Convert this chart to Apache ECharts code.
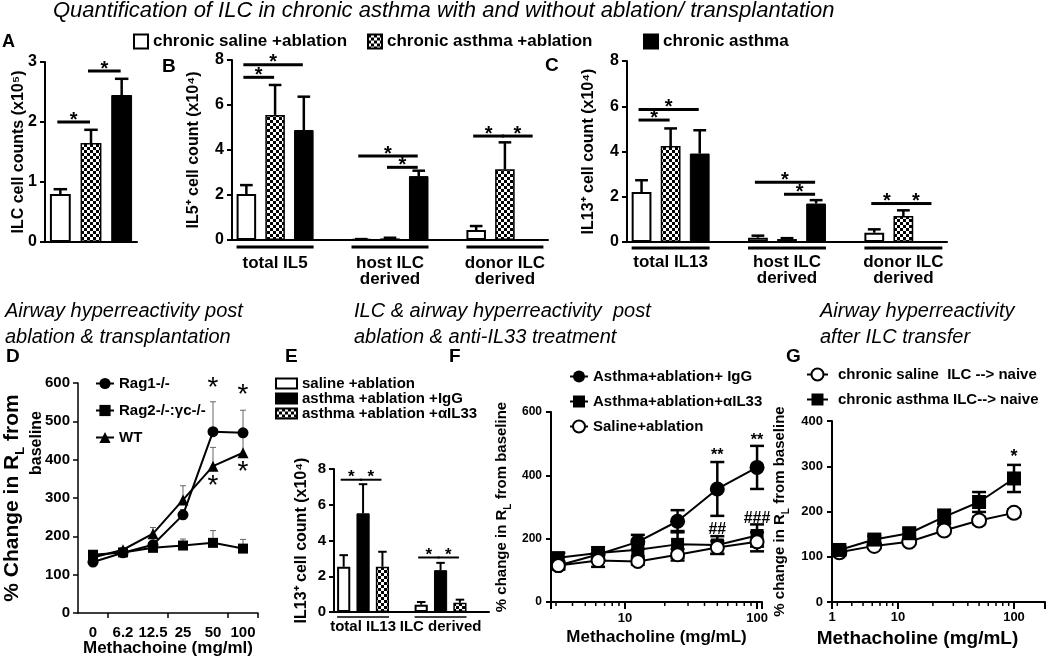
<!DOCTYPE html>
<html>
<head>
<meta charset="utf-8">
<script src="https://cdn.jsdelivr.net/npm/echarts@6.0.0/dist/echarts.min.js"></script>
<style>
html,body{margin:0;padding:0;background:#fff;}
#chart{width:1050px;height:660px;}
</style>
</head>
<body>
<div id="chart"></div>
<script>
// ================= DATA =================
const topLegend = ['chronic saline +ablation', 'chronic asthma +ablation', 'chronic asthma'];

// Panel A: ILC cell counts (x10^5)
const aValues = [0.80, 1.65, 2.45];
const aErrTop = [0.88, 1.87, 2.72];
const aSig = [[0, 0, 1, 2.0], [0, 1, 2, 2.85]];          // [group, fromBar, toBar, y]

// Panel B: IL5+ cell count (x10^4)
const bGroups = ['total IL5', 'host ILC\nderived', 'donor ILC\nderived'];
const bSaline = [2.04, 0.03, 0.44];
const bSalineErr = [2.44, 0.04, 0.62];
const bAsthmaAbl = [5.56, 0.07, 3.14];
const bAsthmaAblErr = [6.89, 0.10, 4.34];
const bAsthma = [4.89, 2.84, 0];
const bAsthmaErr = [6.37, 3.08, 0];
const bSig = [[0, 0, 2, 7.79], [0, 0, 1, 7.23], [1, 0, 2, 3.73], [1, 1, 2, 3.23], [2, 0, 1, 4.62], [2, 1, 2, 4.62]];

// Panel C: IL13+ cell count (x10^4)
const cGroups = ['total IL13', 'host ILC\nderived', 'donor ILC\nderived'];
const cSaline = [2.21, 0.19, 0.41];
const cSalineErr = [2.73, 0.28, 0.56];
const cAsthmaAbl = [4.24, 0.13, 1.15];
const cAsthmaAblErr = [5.02, 0.17, 1.40];
const cAsthma = [3.91, 1.70, 0];
const cAsthmaErr = [4.94, 1.85, 0];
const cSig = [[0, 0, 2, 5.86], [0, 0, 1, 5.39], [1, 0, 2, 2.64], [1, 1, 2, 2.11], [2, 0, 1, 1.70], [2, 1, 2, 1.70]];

// Panel D: airway hyperreactivity post ablation & transplantation
const dDoses = ['0', '6.2', '12.5', '25', '50', '100'];
const dNames = ['Rag1-/-', 'Rag2-/-:\u03b3c-/-', 'WT'];
const dRag1 = [133, 157, 178, 256, 473, 470];
const dRag1Err = [140, 162, 185, 270, 551, 529];
const dRag2 = [152, 158, 170, 176, 183, 168];
const dRag2Err = [158, 163, 180, 193, 215, 192];
const dWT = [145, 165, 207, 295, 383, 418];
const dWTErr = [150, 170, 223, 332, 432, 465];
const dStars = [[4, 585], [4, 330], [5, 568], [5, 368]];

// Panel E: IL13+ cell count (x10^4) with anti-IL33
const eNames = ['saline +ablation', 'asthma +ablation +IgG', 'asthma +ablation +\u03b1IL33'];
const eGroups = ['total IL13', 'ILC derived'];
const eSaline = [2.53, 0.41];
const eSalineErr = [3.18, 0.56];
const eIgG = [5.52, 2.34];
const eIgGErr = [7.15, 2.75];
const eIL33 = [2.53, 0.52];
const eIL33Err = [3.37, 0.69];
const eSig = [[0, 0, 1, 7.4], [0, 1, 2, 7.4], [1, 0, 1, 3.05], [1, 1, 2, 3.05]];

// Panel F: airway hyperreactivity post ablation & anti-IL33
const fDoses = [3.125, 6.25, 12.5, 25, 50, 100];
const fNames = ['Asthma+ablation+ IgG', 'Asthma+ablation+\u03b1IL33', 'Saline+ablation'];
const fIgG = [115, 150, 190, 255, 357, 425];
const fIgGErr = [12, 15, 22, 35, 85, 68];
const fIL33 = [140, 155, 165, 182, 180, 210];
const fIL33Err = [15, 18, 20, 42, 28, 35];
const fSaline = [115, 131, 128, 149, 172, 190];
const fSalineErr = [12, 20, 10, 18, 20, 30];
const fMarks = [[50, 463, '**'], [100, 510, '**'], [50, 228, '##'], [100, 262, '###']];
const fMinorTicks = [3, 4, 5, 6, 7, 8, 9, 20, 30, 40, 50, 60, 70, 80, 90];

// Panel G: airway hyperreactivity after ILC transfer
const gDoses = [3.125, 6.25, 12.5, 25, 50, 100];
const gNames = ['chronic saline  ILC --> naive', 'chronic asthma ILC--> naive'];
const gSaline = [110, 124, 133, 158, 180, 197];
const gSalineErr = [5, 6, 5, 6, 8, 8];
const gAsthma = [115, 138, 152, 188, 221, 273];
const gAsthmaErr = [8, 8, 10, 16, 22, 30];
const gMarks = [[100, 320, '*']];
const gMinorTicks = [3, 4, 5, 6, 7, 8, 9, 20, 30, 40, 50, 60, 70, 80, 90];
const gAxisStartLabel = '1';

// ================= STYLE HELPERS =================
const FONT = "'Liberation Sans', Arial, Helvetica, sans-serif";
const BLACK = '#000';

function makeChecker() {
  const c = document.createElement('canvas');
  c.width = 6; c.height = 6;
  const g = c.getContext('2d');
  g.fillStyle = '#fff'; g.fillRect(0, 0, 6, 6);
  g.fillStyle = '#000'; g.fillRect(0, 0, 3, 3); g.fillRect(3, 3, 3, 3);
  return c;
}
const checkerFill = { image: makeChecker(), repeat: 'repeat' };
const styleWhite = { color: '#fff', borderColor: BLACK, borderWidth: 2 };
const styleChecker = { color: checkerFill, borderColor: BLACK, borderWidth: 1.5 };
const styleBlack = { color: BLACK, borderColor: BLACK, borderWidth: 1 };

const txt = (size, extra) => Object.assign({ color: BLACK, fontFamily: FONT, fontWeight: 'bold', fontSize: size }, extra || {});

const slot4 = (g, k) => g * 4 + k;
const slot1 = (g, k) => k;

// ================= AXES =================
const grids = [
  { left: 45, top: 62, width: 92, height: 180 },    // A
  { left: 232, top: 60, width: 316, height: 180 },  // B
  { left: 627, top: 61, width: 320, height: 181 },  // C
  { left: 78, top: 383, width: 180, height: 230 },  // D
  { left: 334, top: 469, width: 155, height: 143 }, // E
  { left: 551, top: 412, width: 211, height: 190 }, // F
  { left: 832, top: 421, width: 213, height: 181 }  // G
].map(g => Object.assign({ containLabel: false, outerBoundsMode: 'none' }, g));

function slotLabels(groups, n, slotFn) {
  const arr = new Array(n).fill('');
  groups.forEach((g, i) => { arr[slotFn(i, 1)] = g; });
  return arr;
}

function barX(grid, n, labels, size, margin) {
  return {
    gridIndex: grid, type: 'category',
    data: Array.from({ length: n }, (_, i) => 'g' + grid + 's' + i),
    axisLine: { show: true, onZero: false, lineStyle: { color: BLACK, width: 2 } },
    axisTick: { show: false },
    axisLabel: txt(size, { interval: 0, margin: margin, lineHeight: size - 1, formatter: (v, i) => labels[i] || '' }),
    splitLine: { show: false }
  };
}
function valY(grid, max, interval, size, name, nameGap, nameSize, extra) {
  return Object.assign({
    gridIndex: grid, type: 'value', min: 0, max: max, interval: interval,
    axisLine: { show: true, lineStyle: { color: BLACK, width: 2 } },
    axisTick: { show: true, inside: false, length: 5, lineStyle: { color: BLACK, width: 2 } },
    axisLabel: txt(size, { margin: 8 }),
    splitLine: { show: false },
    name: name, nameLocation: 'middle', nameGap: nameGap, nameRotate: 90, nameMoveOverlap: false,
    nameTextStyle: txt(nameSize, {
      rich: {
        sub: { fontFamily: FONT, fontWeight: 'bold', fontSize: Math.round(nameSize * 0.65), color: BLACK, verticalAlign: 'bottom', lineHeight: nameSize + 8 }
      }
    })
  }, extra || {});
}

const xAxes = [
  barX(0, 3, [], 16, 10),
  barX(1, 11, slotLabels(bGroups, 11, slot4), 17, 15),
  barX(2, 11, slotLabels(cGroups, 11, slot4), 17, 12),
  {
    gridIndex: 3, type: 'category', data: dDoses,
    axisLine: { show: true, onZero: false, lineStyle: { color: BLACK, width: 1.5 } },
    axisTick: { show: true, length: 5, interval: (i) => i % 2 === 1, lineStyle: { color: BLACK, width: 1.5 } },
    axisLabel: txt(15, { interval: 0, margin: 12 }),
    splitLine: { show: false },
    name: 'Methachoine (mg/ml)', nameLocation: 'middle', nameGap: 27, nameMoveOverlap: false,
    nameTextStyle: txt(17)
  },
  barX(4, 8, slotLabels(eGroups, 8, slot4), 15, 8),
  {
    gridIndex: 5, type: 'log', logBase: 10, min: 2.75, max: 109,
    axisLine: { show: true, onZero: false, lineStyle: { color: BLACK, width: 2 } },
    axisTick: { show: true, length: 7, lineStyle: { color: BLACK, width: 2 } },
    axisLabel: txt(13, { margin: 10, showMinLabel: true, showMaxLabel: true,
      formatter: (v) => (Math.abs(v - 10) < 1e-6 || Math.abs(v - 100) < 1e-6) ? String(Math.round(v)) : '' }),
    splitLine: { show: false }, minorTick: { show: false },
    name: 'Methacholine (mg/mL)', nameLocation: 'middle', nameGap: 27, nameMoveOverlap: false,
    nameTextStyle: txt(17)
  },
  {
    gridIndex: 6, type: 'log', logBase: 10, min: 2.70, max: 185,
    axisLine: { show: true, onZero: false, lineStyle: { color: BLACK, width: 2 } },
    axisTick: { show: true, length: 7, lineStyle: { color: BLACK, width: 2 } },
    axisLabel: txt(13, { margin: 9, showMinLabel: true, showMaxLabel: true,
      formatter: (v) => {
        if (Math.abs(v - 10) < 1e-6 || Math.abs(v - 100) < 1e-6) return String(Math.round(v));
        if (Math.abs(v - 2.70) < 1e-3) return gAxisStartLabel;
        return '';
      } }),
    splitLine: { show: false }, minorTick: { show: false },
    name: 'Methacholine (mg/mL)', nameLocation: 'middle', nameGap: 27, nameMoveOverlap: false,
    nameTextStyle: txt(19, { padding: [0, 42, 0, 0] })
  }
];

// D y-axis name: long first line, "baseline" on a second line shifted toward the top
const dYName = valY(3, 600, 100, 15, '{big|% Change in R}{sub|L}{big| from}\n{pad| }{mid|baseline}', 31, 22,
  { axisLine: { show: true, lineStyle: { color: BLACK, width: 1.5 } },
    axisTick: { show: true, length: 5, lineStyle: { color: BLACK, width: 1.5 } } });
dYName.nameTextStyle = txt(22, {
  rich: {
    big: { fontFamily: FONT, fontWeight: 'bold', fontSize: 21, color: BLACK, lineHeight: 24 },
    sub: { fontFamily: FONT, fontWeight: 'bold', fontSize: 13, color: BLACK, lineHeight: 30, verticalAlign: 'bottom' },
    pad: { fontFamily: FONT, fontSize: 15, width: 110, lineHeight: 20 },
    mid: { fontFamily: FONT, fontWeight: 'bold', fontSize: 16, color: BLACK, lineHeight: 20 }
  }
});

const yAxes = [
  valY(0, 3, 1, 16, 'ILC cell counts (x10\u2075)', 18, 16),
  valY(1, 8, 2, 16, 'IL5\u207a cell count (x10\u2074)', 30, 16),
  valY(2, 8, 2, 16, 'IL13\u207a cell count (x10\u2074)', 30, 16),
  dYName,
  valY(4, 8, 2, 15, 'IL13\u207a cell count (x10\u2074)', 24, 16),
  valY(5, 600, 200, 12, '% change in R{sub|L} from baseline', 38, 15, { axisLabel: txt(12, { margin: 9 }) }),
  valY(6, 400, 100, 13, '% change in R{sub|L} from baseline', 41, 15, { axisLabel: txt(13, { margin: 9 }) })
];

// ================= SERIES BUILDERS =================
function barSeries(ax, n, condVals, names, styles, slotFn) {
  return condVals.map((vals, k) => {
    const d = new Array(n).fill('-');
    vals.forEach((v, g) => { d[slotFn(g, k)] = v; });
    return { type: 'bar', name: names[k], xAxisIndex: ax, yAxisIndex: ax, data: d,
      barWidth: '68%', barGap: '-100%', itemStyle: styles[k], z: 2, silent: true };
  });
}
function barErrSeries(ax, condVals, condErr, slotFn, lw) {
  const d = [];
  condVals.forEach((vals, k) => vals.forEach((v, g) => {
    const e = condErr[k][g];
    if (e > v) d.push([slotFn(g, k), v, e]);
  }));
  return {
    type: 'custom', xAxisIndex: ax, yAxisIndex: ax, data: d, z: 3, silent: true,
    encode: { x: 0, y: 1 },
    renderItem(p, api) {
      const c0 = api.coord([api.value(0), api.value(1)]);
      const c1 = api.coord([api.value(0), api.value(2)]);
      const hw = api.size([1, 0])[0] * 0.22;
      return { type: 'group', children: [
        { type: 'line', shape: { x1: c0[0], y1: c0[1], x2: c1[0], y2: c1[1] }, style: { stroke: BLACK, lineWidth: lw } },
        { type: 'line', shape: { x1: c1[0] - hw, y1: c1[1], x2: c1[0] + hw, y2: c1[1] }, style: { stroke: BLACK, lineWidth: lw } }
      ] };
    }
  };
}
function sigSeries(ax, sig, slotFn, lw, starSize) {
  return {
    type: 'custom', xAxisIndex: ax, yAxisIndex: ax, z: 4, silent: true,
    encode: { x: 0, y: 1 },
    data: sig.map(s => [slotFn(s[0], s[1]), s[3], slotFn(s[0], s[2])]),
    renderItem(p, api) {
      const a = api.coord([api.value(0), api.value(1)]);
      const b = api.coord([api.value(2), api.value(1)]);
      const x1 = a[0] - 3, x2 = b[0] - 1;
      return { type: 'group', children: [
        { type: 'line', shape: { x1: x1, y1: a[1], x2: x2, y2: a[1] }, style: { stroke: BLACK, lineWidth: lw } },
        { type: 'text', x: (x1 + x2) / 2, y: a[1] - 2,
          style: { text: '*', fontSize: starSize, fontWeight: 'bold', fontFamily: FONT, fill: BLACK, align: 'center', verticalAlign: 'middle' } }
      ] };
    }
  };
}
function underlineSeries(ax, nGroups, slotFn, lw, offset) {
  const d = [];
  for (let g = 0; g < nGroups; g++) d.push([slotFn(g, 0), 0, slotFn(g, 2)]);
  return {
    type: 'custom', xAxisIndex: ax, yAxisIndex: ax, z: 4, silent: true, clip: false,
    encode: { x: 0, y: 1 }, data: d,
    renderItem(p, api) {
      const a = api.coord([api.value(0), 0]);
      const b = api.coord([api.value(2), 0]);
      const hw = api.size([1, 0])[0] * 0.34;
      return { type: 'line', shape: { x1: a[0] - hw, y1: a[1] + offset, x2: b[0] + hw, y2: a[1] + offset },
        style: { stroke: BLACK, lineWidth: lw } };
    }
  };
}
function pointErrSeries(ax, xs, ys, errs, symmetric, color, lw, cap) {
  return {
    type: 'custom', xAxisIndex: ax, yAxisIndex: ax, z: 1, silent: true, clip: false,
    encode: { x: 0, y: 1 },
    data: xs.map((x, i) => [x, ys[i], errs[i]]),
    renderItem(p, api) {
      const v = api.value(1), e = api.value(2);
      const top = symmetric ? v + e : e;
      const bot = symmetric ? v - e : v;
      const c0 = api.coord([api.value(0), bot]);
      const c1 = api.coord([api.value(0), top]);
      const ch = [
        { type: 'line', shape: { x1: c0[0], y1: c0[1], x2: c1[0], y2: c1[1] }, style: { stroke: color, lineWidth: lw } },
        { type: 'line', shape: { x1: c1[0] - cap, y1: c1[1], x2: c1[0] + cap, y2: c1[1] }, style: { stroke: color, lineWidth: lw } }
      ];
      if (symmetric) ch.push({ type: 'line', shape: { x1: c0[0] - cap, y1: c0[1], x2: c0[0] + cap, y2: c0[1] }, style: { stroke: color, lineWidth: lw } });
      return { type: 'group', children: ch };
    }
  };
}
function textSeries(ax, items, size, weight) {
  return {
    type: 'custom', xAxisIndex: ax, yAxisIndex: ax, z: 5, silent: true, clip: false,
    encode: { x: 0, y: 1 },
    data: items.map(t => [t[0], t[1], t[2] || '*']),
    renderItem(p, api) {
      const c = api.coord([api.value(0), api.value(1)]);
      return { type: 'text', x: c[0], y: c[1],
        style: { text: String(api.value(2)), fontSize: size, fontWeight: weight, fontFamily: FONT, fill: BLACK, align: 'center', verticalAlign: 'middle' } };
    }
  };
}
function minorTickSeries(ax, ticks, len) {
  return {
    type: 'custom', xAxisIndex: ax, yAxisIndex: ax, z: 1, silent: true, clip: false,
    encode: { x: 0, y: 1 },
    data: ticks.map(t => [t, 0]),
    renderItem(p, api) {
      const c = api.coord([api.value(0), 0]);
      return { type: 'line', shape: { x1: c[0], y1: c[1], x2: c[0], y2: c[1] + len }, style: { stroke: BLACK, lineWidth: 1.5 } };
    }
  };
}
function lineSeries(ax, name, data, symbol, size, empty) {
  return {
    type: 'line', name: name, xAxisIndex: ax, yAxisIndex: ax, data: data, z: 2, silent: true,
    symbol: symbol, symbolSize: size, showAllSymbol: true,
    lineStyle: { color: BLACK, width: 2 },
    itemStyle: empty ? { color: BLACK, borderColor: BLACK, borderWidth: 2.5 } : { color: BLACK, borderColor: BLACK, borderWidth: 0 }
  };
}

const topStyles = [styleWhite, styleChecker, styleBlack];
const eStyles = [styleWhite, styleBlack, styleChecker];

const aCond = aValues.map(v => [v]);
const aCondErr = aErrTop.map(v => [v]);
const bCond = [bSaline, bAsthmaAbl, bAsthma], bCondErr = [bSalineErr, bAsthmaAblErr, bAsthmaErr];
const cCond = [cSaline, cAsthmaAbl, cAsthma], cCondErr = [cSalineErr, cAsthmaAblErr, cAsthmaErr];
const eCond = [eSaline, eIgG, eIL33], eCondErr = [eSalineErr, eIgGErr, eIL33Err];

const series = [].concat(
  barSeries(0, 3, aCond, topLegend, topStyles, slot1),
  [barErrSeries(0, aCond, aCondErr, slot1, 2.5), sigSeries(0, aSig, slot1, 3, 20)],
  barSeries(1, 11, bCond, topLegend, topStyles, slot4),
  [barErrSeries(1, bCond, bCondErr, slot4, 2.5), sigSeries(1, bSig, slot4, 3, 20), underlineSeries(1, 3, slot4, 3, 7)],
  barSeries(2, 11, cCond, topLegend, topStyles, slot4),
  [barErrSeries(2, cCond, cCondErr, slot4, 2.5), sigSeries(2, cSig, slot4, 3, 20), underlineSeries(2, 3, slot4, 3, 6)],
  [
    lineSeries(3, dNames[0], dRag1, 'circle', 11),
    lineSeries(3, dNames[1], dRag2, 'rect', 10),
    lineSeries(3, dNames[2], dWT, 'triangle', 11),
    pointErrSeries(3, [0, 1, 2, 3, 4, 5], dRag1, dRag1Err, false, '#666', 1, 3),
    pointErrSeries(3, [0, 1, 2, 3, 4, 5], dRag2, dRag2Err, false, '#666', 1, 3),
    pointErrSeries(3, [0, 1, 2, 3, 4, 5], dWT, dWTErr, false, '#666', 1, 3),
    textSeries(3, dStars, 28, 'normal')
  ],
  barSeries(4, 8, eCond, eNames, eStyles, slot4),
  [barErrSeries(4, eCond, eCondErr, slot4, 2), sigSeries(4, eSig, slot4, 2, 17), underlineSeries(4, 2, slot4, 1.5, 5)],
  [
    lineSeries(5, fNames[0], fDoses.map((x, i) => [x, fIgG[i]]), 'circle', 15),
    lineSeries(5, fNames[1], fDoses.map((x, i) => [x, fIL33[i]]), 'rect', 13),
    lineSeries(5, fNames[2], fDoses.map((x, i) => [x, fSaline[i]]), 'emptyCircle', 13, true),
    pointErrSeries(5, fDoses, fIgG, fIgGErr, true, BLACK, 2.5, 7),
    pointErrSeries(5, fDoses, fIL33, fIL33Err, true, BLACK, 2.5, 7),
    pointErrSeries(5, fDoses, fSaline, fSalineErr, true, BLACK, 2.5, 7),
    textSeries(5, fMarks, 16, 'bold'),
    minorTickSeries(5, fMinorTicks, 4)
  ],
  [
    lineSeries(6, gNames[0], gDoses.map((x, i) => [x, gSaline[i]]), 'emptyCircle', 14, true),
    lineSeries(6, gNames[1], gDoses.map((x, i) => [x, gAsthma[i]]), 'rect', 14),
    pointErrSeries(6, gDoses, gSaline, gSalineErr, true, BLACK, 2.5, 7),
    pointErrSeries(6, gDoses, gAsthma, gAsthmaErr, true, BLACK, 2.5, 7),
    textSeries(6, gMarks, 18, 'bold'),
    minorTickSeries(6, gMinorTicks, 4)
  ]
);

// ================= TITLES =================
const italic = (size) => ({ color: BLACK, fontFamily: FONT, fontStyle: 'italic', fontWeight: 'normal', fontSize: size, lineHeight: 26 });
const letter = (size) => ({ color: BLACK, fontFamily: FONT, fontWeight: 'bold', fontSize: size });
const titles = [
  { text: 'Quantification of ILC in chronic asthma with and without ablation/ transplantation', left: 53, top: -1, textStyle: Object.assign(italic(22), { lineHeight: 24 }) },
  { text: 'Airway hyperreactivity post\nablation & transplantation', left: 5, top: 298, textStyle: italic(20) },
  { text: 'ILC & airway hyperreactivity  post\nablation & anti-IL33 treatment', left: 354, top: 298, textStyle: italic(20) },
  { text: 'Airway hyperreactivity\nafter ILC transfer', left: 820, top: 298, textStyle: italic(20) },
  { text: 'A', left: 2, top: 33, textStyle: letter(18) },
  { text: 'B', left: 162, top: 57, textStyle: letter(19) },
  { text: 'C', left: 545, top: 56, textStyle: letter(19) },
  { text: 'D', left: 6, top: 347, textStyle: letter(19) },
  { text: 'E', left: 285, top: 347, textStyle: letter(19) },
  { text: 'F', left: 449, top: 347, textStyle: letter(19) },
  { text: 'G', left: 786, top: 347, textStyle: letter(19) }
].map(t => Object.assign({ padding: 0, itemGap: 0 }, t));

// ================= LEGENDS =================
const legBase = { padding: 0, selectedMode: false, itemGap: 10 };
const legends = [
  Object.assign({}, legBase, { data: [topLegend[0]], left: 133, top: 33, icon: 'rect', itemWidth: 14, itemHeight: 14, itemGap: 4, textStyle: txt(17) }),
  Object.assign({}, legBase, { data: [topLegend[1]], left: 367, top: 33, icon: 'rect', itemWidth: 14, itemHeight: 14, textStyle: txt(17) }),
  Object.assign({}, legBase, { data: [topLegend[2]], left: 643, top: 33, icon: 'rect', itemWidth: 14, itemHeight: 14, textStyle: txt(17) }),
  Object.assign({}, legBase, { data: dNames, left: 95, top: 376, orient: 'vertical', itemGap: 12, itemWidth: 18, itemHeight: 14, textStyle: txt(15) }),
  Object.assign({}, legBase, { data: eNames, left: 275, top: 376, orient: 'vertical', icon: 'rect', itemGap: 0, itemWidth: 21, itemHeight: 10, textStyle: txt(15, { lineHeight: 13 }) }),
  Object.assign({}, legBase, { data: fNames, left: 569, top: 369, orient: 'vertical', itemGap: 10, itemWidth: 18, itemHeight: 15, textStyle: txt(15) }),
  Object.assign({}, legBase, { data: gNames, left: 806, top: 367, orient: 'vertical', itemGap: 10, itemWidth: 21, itemHeight: 15, textStyle: txt(15, { padding: [0, 0, 0, 5] }) })
];

const chart = echarts.init(document.getElementById('chart'), null, { renderer: 'canvas' });
chart.setOption({
  animation: false,
  backgroundColor: '#fff',
  textStyle: { fontFamily: FONT },
  title: titles,
  legend: legends,
  grid: grids,
  xAxis: xAxes,
  yAxis: yAxes,
  series: series
});
</script>
</body>
</html>
